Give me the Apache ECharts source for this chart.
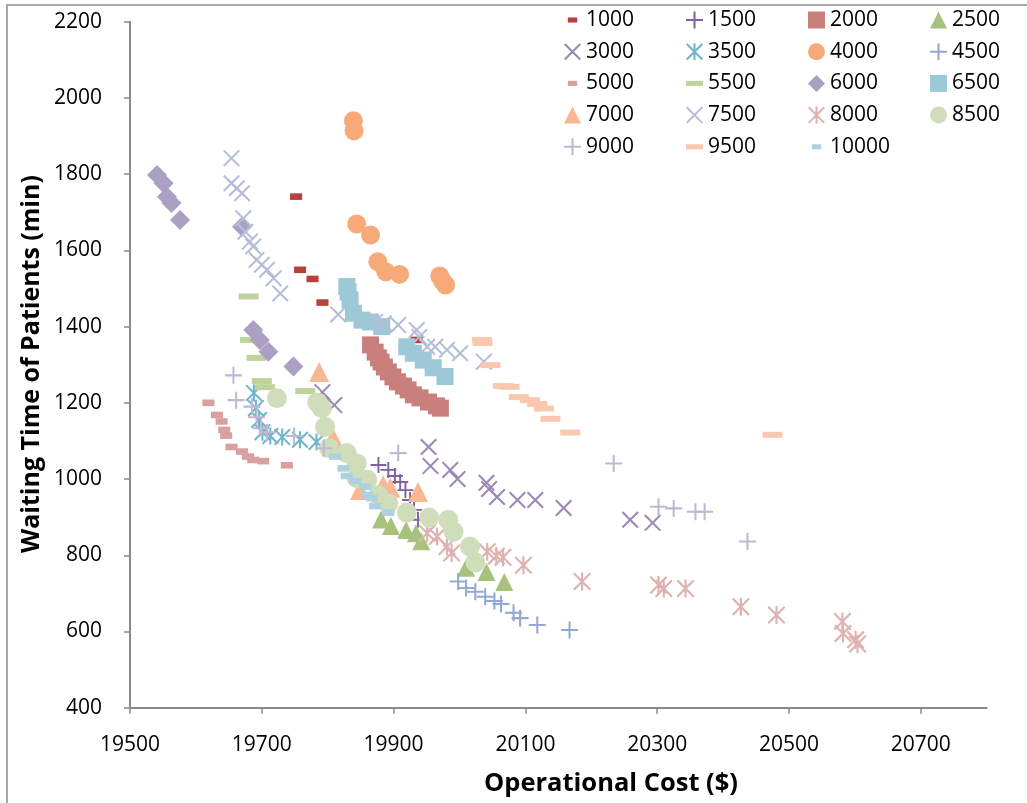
<!DOCTYPE html>
<html>
<head>
    <meta charset="utf-8">
    <title>Waiting time vs operational cost</title>
    <style>
        html, body { margin: 0; padding: 0; background: #fff; }
        #container { width: 1027px; height: 803px; }
    </style>
</head>
<body>
<div id="container"></div>
<script src="https://cdn.jsdelivr.net/npm/echarts@6/dist/echarts.min.js"></script>
<script type="text/javascript">
    // axis ticks
    var xTicks = [19500, 19700, 19900, 20100, 20300, 20500, 20700];
    var yTicks = [400, 600, 800, 1000, 1200, 1400, 1600, 1800, 2000, 2200];

    // series values, [operational cost, waiting time]
    var s1000 = [[19752, 1741], [19758, 1549], [19777, 1525], [19792, 1463], [19935, 1365]];
    var s1500 = [[19877, 1037], [19892, 1024], [19902, 1008], [19910, 992], [19918, 971], [19925, 945], [19931, 919], [19937, 893]];
    var s2000 = [[19865, 1352], [19872, 1333], [19877, 1318], [19881, 1307], [19886, 1294], [19892, 1281], [19899, 1268], [19906, 1255],
                 [19915, 1244], [19922, 1234], [19930, 1221], [19940, 1213], [19953, 1202], [19965, 1192], [19971, 1186]];
    var s2500 = [[19881, 894], [19896, 877], [19919, 866], [19934, 858], [19942, 837], [20010, 767], [20041, 756], [20068, 730]];
    var s3000 = [[19792, 1228], [19810, 1194], [19953, 1084], [19956, 1034], [19986, 1024], [19997, 1000], [20041, 990], [20045, 974],
                 [20057, 953], [20088, 945], [20115, 945], [20158, 924], [20259, 893], [20293, 885]];
    var s3500 = [[19688, 1226], [19691, 1186], [19696, 1155], [19701, 1123], [19713, 1113], [19731, 1110], [19758, 1103], [19783, 1097]];
    var s4000 = [[19839, 1940], [19840, 1914], [19844, 1669], [19865, 1640], [19876, 1570], [19888, 1544], [19909, 1537], [19970, 1533],
                 [19974, 1520], [19979, 1509]];
    var s4500 = [[19998, 731], [20010, 714], [20024, 704], [20039, 691], [20053, 680], [20063, 672], [20082, 649], [20092, 635],
                 [20118, 617], [20167, 604]];
    var s5000 = [[19619, 1200], [19632, 1168], [19639, 1151], [19643, 1129], [19646, 1114], [19654, 1084], [19670, 1072], [19679, 1059],
                 [19687, 1050], [19702, 1047], [19738, 1036]];
    var s5500 = [[19680, 1479], [19682, 1365], [19692, 1318], [19700, 1257], [19705, 1241], [19766, 1231]];
    var s6000 = [[19541, 1798], [19551, 1776], [19556, 1741], [19563, 1724], [19576, 1680], [19670, 1662], [19687, 1391], [19697, 1365],
                 [19710, 1334], [19748, 1295]];
    var s6500 = [[19829, 1505], [19831, 1491], [19834, 1470], [19839, 1435], [19852, 1417], [19865, 1412], [19882, 1400], [19920, 1347],
                 [19930, 1330], [19945, 1312], [19960, 1292], [19978, 1269]];
    var s7000 = [[19787, 1281], [19808, 1108], [19849, 971], [19884, 984], [19895, 977], [19937, 966]];
    var s7500 = [[19654, 1842], [19654, 1776], [19662, 1763], [19670, 1750], [19672, 1684], [19675, 1649], [19682, 1623], [19687, 1610],
                 [19692, 1575], [19700, 1562], [19708, 1549], [19718, 1527], [19728, 1487], [19816, 1432], [19872, 1413], [19885, 1409],
                 [19907, 1404], [19935, 1391], [19939, 1373], [19951, 1347], [19963, 1347], [19981, 1339], [20001, 1330], [20037, 1308]];
    var s8000 = [[19951, 858], [19966, 849], [19981, 823], [19988, 806], [20042, 809], [20056, 798], [20066, 795], [20097, 774],
                 [20186, 731], [20302, 722], [20310, 713], [20343, 713], [20427, 665], [20481, 643], [20581, 626], [20582, 595],
                 [20601, 578], [20604, 567]];
    var s8500 = [[19723, 1212], [19784, 1201], [19791, 1186], [19796, 1137], [19802, 1081], [19829, 1068], [19844, 1041], [19844, 1002],
                 [19860, 998], [19877, 958], [19892, 936], [19920, 912], [19954, 899], [19983, 893], [19991, 862], [20016, 823], [20024, 781]];
    var s9000 = [[19657, 1272], [19661, 1207], [19685, 1190], [19692, 1162], [19699, 1133], [19708, 1123], [19749, 1113], [19794, 1081],
                 [19907, 1068], [20234, 1041], [20302, 927], [20325, 923], [20358, 914], [20372, 914], [20437, 836]];
    var s9500 = [[20034, 1365], [20035, 1357], [20047, 1299], [20066, 1244], [20076, 1242], [20090, 1215], [20107, 1207], [20118, 1197],
                 [20128, 1185], [20138, 1158], [20168, 1122], [20475, 1116]];
    var s10000 = [[19811, 1059], [19824, 1028], [19829, 1008], [19842, 995], [19857, 980], [19860, 958], [19867, 950], [19872, 929], [19892, 912]];

    var seriesNames = ['1000', '1500', '2000', '2500', '3000', '3500', '4000', '4500', '5000', '5500',
                       '6000', '6500', '7000', '7500', '8000', '8500', '9000', '9500', '10000'];
    var seriesData = [s1000, s1500, s2000, s2500, s3000, s3500, s4000, s4500, s5000, s5500,
                      s6000, s6500, s7000, s7500, s8000, s8500, s9000, s9500, s10000];

    // marker shapes, drawn in a 20x20 box so the legend keeps the proportions
    var DASH_S = 'path://M0 0M20 20M4.5 7H15.5V13H4.5Z';
    var DASH_L = 'path://M0 0M20 20M0 7H20V13H0Z';
    var PLUS = 'path://M8.8 0H11.2V8.8H20V11.2H11.2V20H8.8V11.2H0V8.8H8.8Z';
    var CROSS = 'path://M0 1.7L1.7 0L20 18.3L18.3 20ZM1.7 20L0 18.3L18.3 0L20 1.7Z';
    var STAR = CROSS + 'M8.8 0L11.2 0L11.2 20L8.8 20Z';

    var markers = {
        '1000':  { symbol: DASH_S,     size: 22, color: '#B7413E' },
        '1500':  { symbol: PLUS,       size: 16, color: '#7F63A1' },
        '2000':  { symbol: 'rect',     size: 17, color: '#C9807D' },
        '2500':  { symbol: 'triangle', size: 18, color: '#A6C27C' },
        '3000':  { symbol: CROSS,      size: 17, color: '#9C87B6' },
        '3500':  { symbol: STAR,       size: 17, color: '#6DB6CB' },
        '4000':  { symbol: 'circle',   size: 19, color: '#F7A978' },
        '4500':  { symbol: PLUS,       size: 17, color: '#94A9D1' },
        '5000':  { symbol: DASH_S,     size: 22, color: '#D8A19F' },
        '5500':  { symbol: DASH_L,     size: 20, color: '#BDD49D' },
        '6000':  { symbol: 'diamond',  size: 20, color: '#AB9FC3' },
        '6500':  { symbol: 'rect',     size: 17, color: '#9CC8D8' },
        '7000':  { symbol: 'triangle', size: 20, color: '#F9B793' },
        '7500':  { symbol: CROSS,      size: 17, color: '#B5BED9' },
        '8000':  { symbol: STAR,       size: 18, color: '#DEB2B0' },
        '8500':  { symbol: 'circle',   size: 20, color: '#CFDDBA' },
        '9000':  { symbol: PLUS,       size: 17, color: '#C1B7D3' },
        '9500':  { symbol: DASH_L,     size: 20, color: '#FAC8AE' },
        '10000': { symbol: DASH_S,     size: 22, color: '#ACD2E0' }
    };

    var FONT = '"Open Sans", "Liberation Sans", sans-serif';
    var AXIS_COLOR = '#8a8a8a';

    // legend: four columns, left edge of each
    var legendColumns = [
        ['1000', '3000', '5000', '7000', '9000'],
        ['1500', '3500', '5500', '7500', '9500'],
        ['2000', '4000', '6000', '8000', '10000'],
        ['2500', '4500', '6500', '8500']
    ];
    var legendLeft = [564, 686, 808, 930];

    var legends = legendColumns.map(function (names, i) {
        return {
            data: names,
            orient: 'vertical',
            left: legendLeft[i],
            top: 9.5,
            itemWidth: 17,
            itemHeight: 17,
            itemGap: 10.7,
            selectedMode: false,
            padding: 0,
            textStyle: { fontFamily: FONT, fontSize: 21, lineHeight: 21, color: '#000' }
        };
    });

    var series = seriesNames.map(function (name, i) {
        var m = markers[name];
        return {
            name: name,
            type: 'scatter',
            data: seriesData[i],
            symbol: m.symbol,
            symbolSize: m.size,
            itemStyle: { color: m.color, opacity: 1 },
            emphasis: { disabled: true }
        };
    });

    // plain numbers, no thousands separator
    function plain(v) { return String(v); }

    var myChart = echarts.init(document.getElementById('container'));

    var option = {
        animation: false,
        backgroundColor: '#fff',
        legend: legends,
        grid: {
            left: 130,
            top: 21.7,
            right: 40.3,
            bottom: 95.3
        },
        xAxis: {
            type: 'value',
            min: 19500,
            max: 20800,
            splitLine: { show: false },
            axisLine: { lineStyle: { color: AXIS_COLOR, width: 2 } },
            axisTick: { length: 6, lineStyle: { color: AXIS_COLOR, width: 1.5 }, customValues: xTicks },
            axisLabel: {
                customValues: xTicks,
                formatter: plain,
                margin: 27,
                fontFamily: FONT,
                fontSize: 21,
                color: '#000'
            }
        },
        yAxis: {
            type: 'value',
            min: 400,
            max: 2200,
            interval: 200,
            splitLine: { show: false },
            axisLine: { show: true, lineStyle: { color: AXIS_COLOR, width: 2 } },
            axisTick: { show: true, length: 6, lineStyle: { color: AXIS_COLOR, width: 1.5 } },
            axisLabel: {
                customValues: yTicks,
                formatter: plain,
                margin: 28,
                fontFamily: FONT,
                fontSize: 21,
                color: '#000'
            }
        },
        graphic: [
            {
                type: 'rect',
                shape: { x: 7, y: 5, width: 1100, height: 1000 },
                style: { fill: 'none', stroke: '#8c8c8c', lineWidth: 1.5 },
                silent: true
            },
            {
                type: 'text',
                x: 611,
                y: 784,
                style: {
                    text: 'Operational Cost ($)',
                    font: 'bold 25.5px ' + FONT,
                    fill: '#000',
                    textAlign: 'center',
                    textVerticalAlign: 'middle'
                }
            },
            {
                type: 'text',
                x: 32,
                y: 364,
                rotation: Math.PI / 2,
                style: {
                    text: 'Waiting Time of Patients (min)',
                    font: 'bold 25px ' + FONT,
                    fill: '#000',
                    textAlign: 'center',
                    textVerticalAlign: 'middle'
                }
            }
        ],
        series: series
    };

    if (option && typeof option === "object") {
        myChart.setOption(option, true);
    }
</script>
</body>
</html>
